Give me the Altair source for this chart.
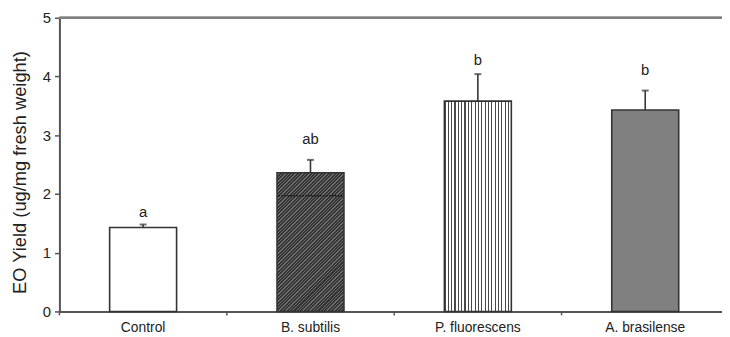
import altair as alt
import pandas as pd

# ---- data ----
categories = ["Control", "B. subtilis", "P. fluorescens", "A. brasilense"]
means = [1.43, 2.36, 3.58, 3.43]
err_top = [1.48, 2.58, 4.04, 3.76]
letters = ["a", "ab", "b", "b"]
letter_y = [1.70, 2.93, 4.28, 4.11]
y_ticks = [0, 1, 2, 3, 4, 5]
subtilis_dotted = 1.97

# ---- styling ----
W_PLOT = 670
H_PLOT = 297
X_RANGE = 677
STEP = X_RANGE / 4
BAR_W = STEP * 0.4
AX = "#555555"
DARK = "#333333"
FONT = "Liberation Sans"


def stripes(n, c_line, c_bg, frac):
    stops = []
    for i in range(n):
        a = i / n
        b = (i + frac) / n
        c = (i + 1) / n
        stops += [
            alt.GradientStop(offset=a, color=c_line),
            alt.GradientStop(offset=b, color=c_line),
            alt.GradientStop(offset=b, color=c_bg),
            alt.GradientStop(offset=c, color=c_bg),
        ]
    return stops


# diagonal hatch for B. subtilis (45 degree lines, objectBoundingBox units)
h_sub = means[1] * H_PLOT / 5
ratio = h_sub / BAR_W
ga = (1 + ratio) / (1 + ratio ** 2)
gb = ratio * ga
hatch = alt.LinearGradient(
    gradient="linear", x1=0, y1=0, x2=ga, y2=gb,
    stops=stripes(60, "#333333", "#6e6e6e", 0.6),
)
vstripes = alt.LinearGradient(
    gradient="linear", x1=0, y1=0, x2=1, y2=0,
    stops=stripes(20, "#4a4a4a", "#ffffff", 0.35),
)
fills = ["#ffffff", hatch, vstripes, "#808080"]

df = pd.DataFrame({
    "cat": categories,
    "mean": means,
    "err": err_top,
    "letter": letters,
    "ly": letter_y,
})

xscale = alt.Scale(domain=categories, range=[0, X_RANGE], paddingInner=0.6, paddingOuter=0.3)
yscale = alt.Scale(domain=[0, 5], nice=False)

x_enc = alt.X(
    "cat:N", scale=xscale, sort=categories, title=None,
    axis=alt.Axis(
        labelAngle=0, ticks=False, domain=True, domainColor=AX, domainWidth=2,
        labelFont=FONT, labelFontSize=14, labelColor="#222222", labelPadding=9,
        labelOverlap=False,
    ),
)
y_enc = alt.Y(
    "mean:Q", scale=yscale,
    title="EO  Yield (ug/mg fresh weight)",
    axis=alt.Axis(
        values=y_ticks, format="d", grid=False, domainColor=AX, domainWidth=2,
        tickColor=AX, tickSize=5, tickWidth=1.5,
        labelFont=FONT, labelFontSize=15, labelColor="#222222", labelPadding=4,
        titleFont=FONT, titleFontSize=18.5, titleFontWeight="normal", titleColor="#222222",
        titleX=-40, titleY=156, titleAngle=-90, titleAlign="center", titleBaseline="middle",
    ),
)

base = alt.Chart(df)

bars = [
    base.transform_filter(alt.datum.cat == c)
    .mark_bar(fill=f, stroke=DARK, strokeWidth=1.6)
    .encode(x=x_enc, y=y_enc)
    for c, f in zip(categories, fills)
]

dotted = alt.Chart(pd.DataFrame({"cat": [categories[1]], "v": [subtilis_dotted]})).mark_rule(
    color="#111111", strokeWidth=1.5, strokeDash=[1.5, 1.5],
    xOffset=-BAR_W / 2 + 1.5, x2Offset=BAR_W / 2 - 1.5,
).encode(
    x=alt.X("cat:N", scale=xscale, sort=categories),
    x2="cat:N",
    y=alt.Y("v:Q", scale=yscale),
)

err_line = base.mark_rule(color=DARK, strokeWidth=1.6).encode(
    x=alt.X("cat:N", scale=xscale, sort=categories),
    y=alt.Y("mean:Q", scale=yscale),
    y2="err:Q",
)
err_cap = base.mark_tick(color=DARK, size=7, thickness=2, orient="horizontal").encode(
    x=alt.X("cat:N", scale=xscale, sort=categories),
    y=alt.Y("err:Q", scale=yscale),
)
labels = base.mark_text(font=FONT, fontSize=15, color="#222222", baseline="middle").encode(
    x=alt.X("cat:N", scale=xscale, sort=categories),
    y=alt.Y("ly:Q", scale=yscale),
    text="letter:N",
)
x_ticks = base.mark_rule(color=AX, strokeWidth=1.5, xOffset=-STEP / 2).encode(
    x=alt.X("cat:N", scale=xscale, sort=categories),
    y=alt.value(H_PLOT),
    y2=alt.value(H_PLOT + 4),
)
top_line = base.mark_rule(color="#808080", strokeWidth=2).encode(
    x=alt.value(0), x2=alt.value(X_RANGE), y=alt.value(0),
)

chart = alt.layer(
    *bars, dotted, err_line, err_cap, labels, x_ticks, top_line
).properties(
    width=W_PLOT, height=H_PLOT,
    autosize=alt.AutoSizeParams(type="none"),
    padding={"left": 52, "top": 8, "right": 0, "bottom": 22},
).configure_view(stroke=None).configure(background="white")

chart.save("out.html", embed_options={"renderer": "svg", "actions": False})
